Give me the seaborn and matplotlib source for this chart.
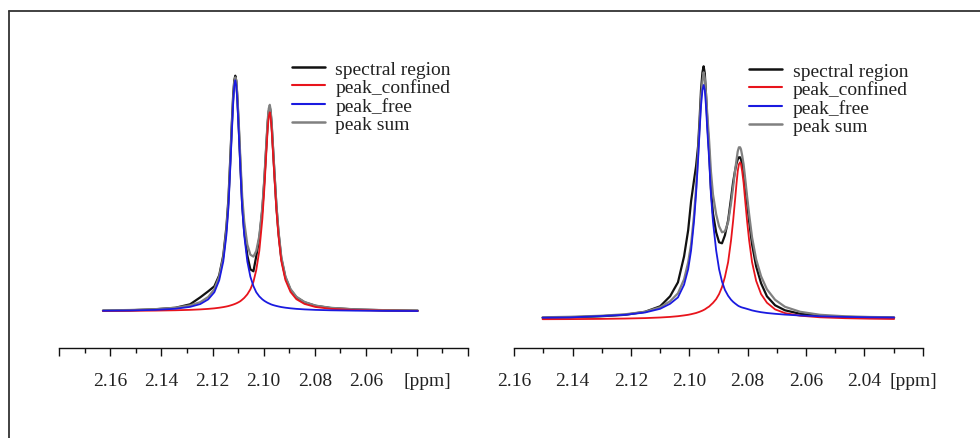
import numpy as np
import pandas as pd
import matplotlib
matplotlib.use("Agg")
import matplotlib.pyplot as plt
import seaborn as sns
from matplotlib.lines import Line2D
from matplotlib.transforms import ScaledTranslation

# ---- left spectrum (chemical shift in ppm, intensity in a.u.) ----
ppm_left = [2.1629, 2.1523, 2.1425, 2.1346, 2.1288, 2.1248, 2.1217, 2.1193, 2.1174, 2.1158,
            2.1146, 2.1138, 2.1131, 2.1125, 2.1119, 2.1115, 2.1111, 2.1107, 2.1103, 2.1097,
            2.1091, 2.1084, 2.1076, 2.1064, 2.1052, 2.1040, 2.1029, 2.1017, 2.1005, 2.0997,
            2.0989, 2.0984, 2.0980, 2.0976, 2.0973, 2.0969, 2.0964, 2.0958, 2.0950, 2.0942,
            2.0931, 2.0915, 2.0895, 2.0872, 2.0840, 2.0797, 2.0738, 2.0640, 2.0523, 2.0397]
spectral_left = [0.6, 1.0, 2.0, 3.5, 7.0, 14, 20, 25, 36, 56,
                 84, 112, 151, 186, 218, 231, 235.6, 230, 214, 182,
                 146, 107, 80, 56, 42, 40, 55, 73, 102, 132,
                 168, 189, 200, 204, 200, 188, 166, 139, 105, 79,
                 53, 34, 21.5, 14, 9, 5.5, 3.3, 1.8, 1.0, 0.6]
confined_left = [0.33, 0.47, 0.70, 1.03, 1.45, 1.90, 2.42, 2.96, 3.57, 4.20,
                 4.79, 5.25, 5.78, 6.24, 6.75, 7.12, 7.53, 7.97, 8.45, 9.25,
                 10.17, 11.62, 13.41, 16.93, 21.97, 29.5, 41.2, 60.4, 92.5, 123.8,
                 161.1, 183.2, 194.8, 199, 194.8, 183.2, 161.1, 134.7, 101.0, 75.5,
                 50.3, 31.4, 19.4, 12.12, 7.36, 4.31, 2.47, 1.25, 0.69, 0.42]
free_left = [0.53, 0.83, 1.42, 2.52, 4.44, 7.25, 11.93, 19.07, 31.0, 49.9,
             75.96, 103.4, 141.7, 176.5, 209.9, 225.3, 231, 225.3, 209.9, 176.5,
             141.7, 103.4, 75.96, 49.9, 34.6, 25.2, 19.07, 14.9, 11.93, 10.41,
             9.16, 8.46, 7.98, 7.54, 7.13, 6.75, 6.31, 5.87, 5.33, 4.85,
             4.25, 3.61, 2.99, 2.44, 1.91, 1.42, 1.01, 0.64, 0.41, 0.28]
sum_left = [0.86, 1.30, 2.12, 3.55, 5.89, 9.15, 14.35, 22.0, 34.6, 54.1,
            80.8, 108.7, 147.5, 182.7, 214, 229, 234, 231, 216, 185.7,
            151.9, 115.0, 89.4, 66.8, 56.6, 54.7, 60.3, 75.3, 104.4, 134.2,
            170.3, 191.7, 202.8, 206.5, 201.9, 190.0, 167.4, 140.6, 106.3, 80.4,
            54.6, 35.0, 22.4, 14.6, 9.3, 5.7, 3.5, 1.9, 1.1, 0.7]

# ---- right spectrum ----
ppm_right = [2.1503, 2.1409, 2.1306, 2.1220, 2.1152, 2.1100, 2.1066, 2.1039, 2.1018, 2.1004,
             2.0994, 2.0984, 2.0977, 2.0970, 2.0965, 2.0960, 2.0955, 2.0951, 2.0947, 2.0943,
             2.0938, 2.0932, 2.0926, 2.0919, 2.0908, 2.0898, 2.0888, 2.0878, 2.0867, 2.0857,
             2.0850, 2.0843, 2.0838, 2.0834, 2.0830, 2.0826, 2.0823, 2.0819, 2.0814, 2.0809,
             2.0802, 2.0795, 2.0785, 2.0771, 2.0754, 2.0734, 2.0706, 2.0672, 2.0620, 2.0552,
             2.0466, 2.0380, 2.0298]
spectral_right = [0.5, 1.0, 2.0, 3.5, 6.5, 12, 22, 36, 62, 88,
                  117, 138, 152, 172, 198, 228, 246, 252, 245, 225,
                  195, 166, 130, 105, 86, 76, 75, 83, 98, 120,
                  136, 148, 155, 159, 161, 161, 159, 154, 146, 134,
                  115, 97, 74, 52, 35, 22, 13, 8, 4.5, 2.5,
                  1.4, 0.9, 0.5]
confined_right = [-0.9, -0.8, -0.6, -0.25, 0.2, 0.8, 1.4, 2.1, 2.9, 3.5,
                  4.1, 4.8, 5.3, 6.0, 6.5, 7.1, 7.7, 8.3, 8.9, 9.7,
                  10.7, 11.8, 13.5, 15.4, 19.2, 24.2, 31.2, 41.3, 56.2, 78.0,
                  97.2, 119.2, 135.5, 147.2, 154.1, 156, 154.1, 147.2, 135.5, 119.2,
                  97.2, 78.0, 56.2, 37.5, 24.2, 15.6, 8.9, 5.2, 2.6, 1.0,
                  0.1, -0.4, -0.7]
free_right = [0.6, 0.9, 2.2, 3.5, 5.8, 9.5, 14.5, 20.9, 33.6, 49.1,
              67.8, 96.8, 124.2, 158.4, 186.6, 212.6, 228.2, 233.3, 228.2, 212.6,
              186.6, 158.4, 124.2, 96.8, 67.8, 49.1, 36.75, 28.4, 22.5, 18.6,
              16.5, 14.8, 13.7, 12.8, 12.1, 11.6, 11.2, 10.8, 10.4, 10.0,
              9.4, 8.8, 7.9, 7.0, 6.1, 5.3, 4.5, 3.7, 2.8, 2.0,
              1.4, 1.0, 0.8]
sum_right = [1.0, 1.5, 2.5, 4.0, 6.5, 11, 17, 25, 39, 56,
             74, 103, 130, 165, 192, 220, 237, 246, 240, 225,
             202, 177, 147, 124, 104, 92, 86, 87, 96, 115,
             131, 148, 159, 167, 171, 171, 169, 163, 154, 141,
             122, 104, 81, 59, 42, 29, 18.5, 11.5, 6.5, 3.5,
             2.0, 1.3, 1.0]

series_names = ["spectral region", "peak_confined", "peak_free", "peak sum"]
series_colors = {"spectral region": "#111111", "peak_confined": "#e8141c",
                 "peak_free": "#1a1ae0", "peak sum": "#808080"}
series_widths = {"spectral region": 1.6, "peak_confined": 1.3,
                 "peak_free": 1.3, "peak sum": 1.6}
draw_order = ["spectral region", "peak sum", "peak_confined", "peak_free"]

sns.set_style("white")
plt.rcParams["font.family"] = ["Liberation Serif", "DejaVu Serif"]

W, H = 980, 439
fig = plt.figure(figsize=(W / 100, H / 100), dpi=100)


def px_axes(x0, x1, y_bottom, y_top):
    return fig.add_axes([x0 / W, 1 - y_bottom / H, (x1 - x0) / W, (y_bottom - y_top) / H])


panels = [
    dict(ppm=ppm_left, data=[spectral_left, confined_left, free_left, sum_left],
         box=(59.3, 468.0), xlim=(2.18, 2.02), base_gap=37.0,
         labels=["", "2.16", "2.14", "2.12", "2.10", "2.08", "2.06", "[ppm]", ""],
         ppm_shift=10, legend_xy=(291.5, 61)),
    dict(ppm=ppm_right, data=[spectral_right, confined_right, free_right, sum_right],
         box=(514.3, 922.7), xlim=(2.16, 2.02), base_gap=30.0,
         labels=["2.16", "2.14", "2.12", "2.10", "2.08", "2.06", "2.04", "[ppm]"],
         ppm_shift=-9, legend_xy=(749.0, 63)),
]

axis_y, top_y = 349.3, 40.0
for p in panels:
    ax = px_axes(p["box"][0], p["box"][1], axis_y, top_y)
    df = pd.DataFrame({"ppm": p["ppm"]})
    for name, vals in zip(series_names, p["data"]):
        df[name] = vals
    long = df.melt(id_vars="ppm", var_name="series", value_name="intensity")
    for name in draw_order:
        sns.lineplot(data=long[long["series"] == name], x="ppm", y="intensity",
                     color=series_colors[name], lw=series_widths[name], ax=ax,
                     legend=False, estimator=None)
    ax.set_xlim(*p["xlim"])
    ax.set_ylim(-p["base_gap"], -p["base_gap"] + (axis_y - top_y))
    for s in ["left", "right", "top"]:
        ax.spines[s].set_visible(False)
    ax.spines["bottom"].set_color("#111111")
    ax.spines["bottom"].set_linewidth(1.0)
    majors = np.arange(p["xlim"][0], p["xlim"][1] - 0.001, -0.02)
    minors = np.arange(p["xlim"][0] - 0.01, p["xlim"][1], -0.02)
    ax.set_xticks(majors)
    ax.set_xticklabels(p["labels"])
    ax.set_xticks(minors, minor=True)
    ax.tick_params(axis="x", which="major", direction="out", length=6, width=1.0,
                   color="#111111", pad=11, labelsize=14, labelcolor="#222222", bottom=True)
    ax.tick_params(axis="x", which="minor", direction="out", length=3.5, width=1.0,
                   color="#111111", bottom=True)
    ax.set_yticks([])
    ax.set_xlabel("")
    ax.set_ylabel("")
    for lab in ax.get_xticklabels():
        if lab.get_text() == "[ppm]":
            lab.set_transform(lab.get_transform() +
                              ScaledTranslation(p["ppm_shift"] / 100, 0, fig.dpi_scale_trans))
    handles = [Line2D([], [], color=series_colors[n], lw=series_widths[n] + 0.2) for n in series_names]
    lx, ly = p["legend_xy"]
    ax.legend(handles, series_names, loc="upper left", bbox_to_anchor=(lx / W, 1 - ly / H),
              bbox_transform=fig.transFigure, frameon=False, borderpad=0, borderaxespad=0,
              handlelength=1.7, handletextpad=0.55, labelspacing=0.03, fontsize=14,
              labelcolor="#222222")

# outer frame (only left and top edges are inside the image)
fig.add_artist(Line2D([9 / W, 9 / W], [0, 1 - 12 / H], transform=fig.transFigure,
                      color="#333333", lw=1.3))
fig.add_artist(Line2D([9 / W, 1], [1 - 12 / H, 1 - 12 / H], transform=fig.transFigure,
                      color="#333333", lw=1.3))

fig.savefig("out.png", dpi=100)
